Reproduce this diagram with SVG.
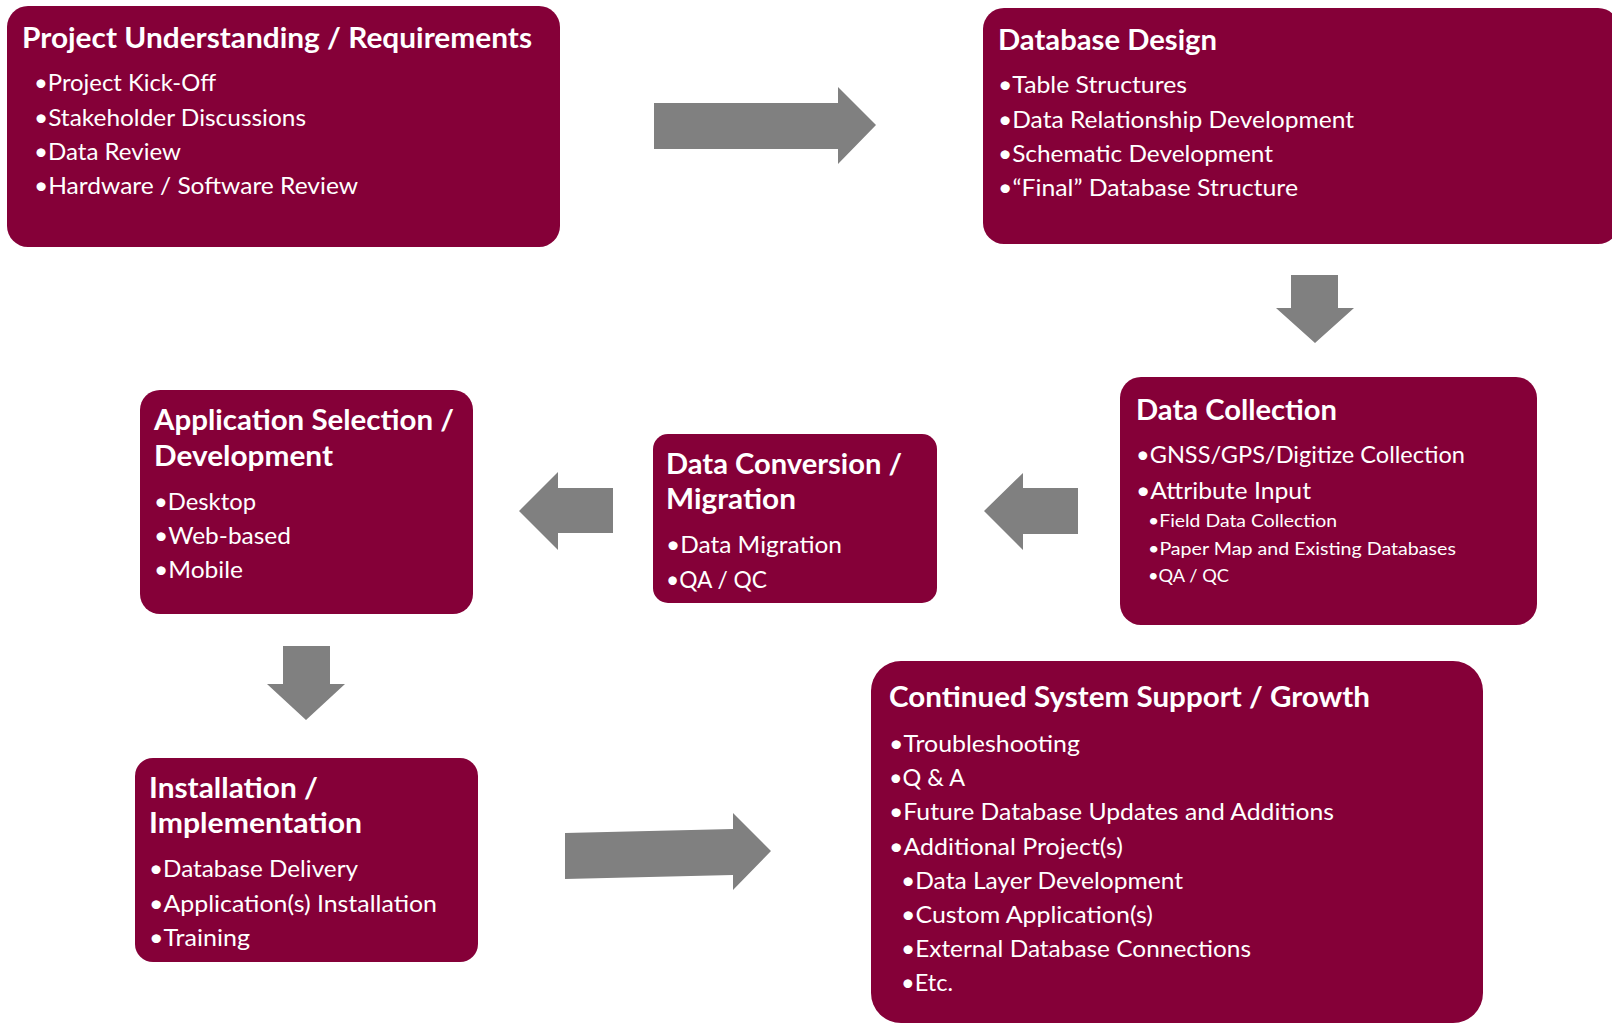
<svg xmlns="http://www.w3.org/2000/svg" width="1612" height="1023" viewBox="0 0 1612 1023">
<style>
.box{fill:#850038;}
.arrow{fill:#808080;}
text{font-family:Lato,"Open Sans","Liberation Sans",sans-serif;fill:#ffffff;}
.t{font-size:28px;font-weight:bold;}
.b{font-size:24px;}
.s{font-size:18px;}
</style>
<rect width="1612" height="1023" fill="#ffffff"/>
<g id="connectors">
<polygon class="arrow" points="654,103 838,103 838,87 876,125 838,164 838,149 654,149"/>
<polygon class="arrow" points="1291,275 1338,275 1338,308 1354,308 1315,343 1276,308 1291,308"/>
<polygon class="arrow" points="1078,488 1023,488 1023,473 984,511 1023,550 1023,534 1078,534"/>
<polygon class="arrow" points="613,488 558,488 558,472 519,511 558,550 558,533 613,533"/>
<polygon class="arrow" points="283,646 330,646 330,684 345,684 306,720 267,684 283,684"/>
<polygon class="arrow" points="565,833 733,829 733,813 771,851 733,890 733,875 565,879"/>
</g>
<g id="n1">
<rect class="box" x="7" y="6" width="553" height="241" rx="21"/>
<text class="t" x="22" y="48" textLength="510" lengthAdjust="spacingAndGlyphs">Project Understanding / Requirements</text>
<text class="b" x="34" y="91" textLength="182" lengthAdjust="spacingAndGlyphs">•Project Kick-Off</text>
<text class="b" x="34" y="126" textLength="272" lengthAdjust="spacingAndGlyphs">•Stakeholder Discussions</text>
<text class="b" x="34" y="160" textLength="147" lengthAdjust="spacingAndGlyphs">•Data Review</text>
<text class="b" x="34" y="194" textLength="324" lengthAdjust="spacingAndGlyphs">•Hardware / Software Review</text>
</g>
<g id="n2">
<rect class="box" x="983" y="8" width="636" height="236" rx="21"/>
<text class="t" x="998" y="50" textLength="219" lengthAdjust="spacingAndGlyphs">Database Design</text>
<text class="b" x="998" y="93" textLength="189" lengthAdjust="spacingAndGlyphs">•Table Structures</text>
<text class="b" x="998" y="128" textLength="356" lengthAdjust="spacingAndGlyphs">•Data Relationship Development</text>
<text class="b" x="998" y="162" textLength="275" lengthAdjust="spacingAndGlyphs">•Schematic Development</text>
<text class="b" x="998" y="196" textLength="300" lengthAdjust="spacingAndGlyphs">•“Final” Database Structure</text>
</g>
<g id="n3">
<rect class="box" x="1120" y="377" width="417" height="248" rx="21"/>
<text class="t" x="1136" y="420" textLength="201" lengthAdjust="spacingAndGlyphs">Data Collection</text>
<text class="b" x="1136" y="463" textLength="329" lengthAdjust="spacingAndGlyphs">•GNSS/GPS/Digitize Collection</text>
<text class="b" x="1136" y="499" textLength="175" lengthAdjust="spacingAndGlyphs">•Attribute Input</text>
<text class="s" x="1148" y="527" textLength="189" lengthAdjust="spacingAndGlyphs">•Field Data Collection</text>
<text class="s" x="1148" y="555" textLength="308" lengthAdjust="spacingAndGlyphs">•Paper Map and Existing Databases</text>
<text class="s" x="1148" y="582" textLength="81" lengthAdjust="spacingAndGlyphs">•QA / QC</text>
</g>
<g id="n4">
<rect class="box" x="653" y="434" width="284" height="169" rx="15"/>
<text class="t" x="666" y="474" textLength="236" lengthAdjust="spacingAndGlyphs">Data Conversion /</text>
<text class="t" x="666" y="509" textLength="130" lengthAdjust="spacingAndGlyphs">Migration</text>
<text class="b" x="666" y="553" textLength="176" lengthAdjust="spacingAndGlyphs">•Data Migration</text>
<text class="b" x="666" y="588" textLength="101" lengthAdjust="spacingAndGlyphs">•QA / QC</text>
</g>
<g id="n5">
<rect class="box" x="140" y="390" width="333" height="224" rx="20"/>
<text class="t" x="154" y="430" textLength="300" lengthAdjust="spacingAndGlyphs">Application Selection /</text>
<text class="t" x="154" y="466" textLength="179" lengthAdjust="spacingAndGlyphs">Development</text>
<text class="b" x="154" y="510" textLength="102" lengthAdjust="spacingAndGlyphs">•Desktop</text>
<text class="b" x="154" y="544" textLength="137" lengthAdjust="spacingAndGlyphs">•Web-based</text>
<text class="b" x="154" y="578" textLength="89" lengthAdjust="spacingAndGlyphs">•Mobile</text>
</g>
<g id="n6">
<rect class="box" x="135" y="758" width="343" height="204" rx="18"/>
<text class="t" x="149" y="798" textLength="169" lengthAdjust="spacingAndGlyphs">Installation /</text>
<text class="t" x="149" y="833" textLength="213" lengthAdjust="spacingAndGlyphs">Implementation</text>
<text class="b" x="149" y="877" textLength="209" lengthAdjust="spacingAndGlyphs">•Database Delivery</text>
<text class="b" x="149" y="912" textLength="288" lengthAdjust="spacingAndGlyphs">•Application(s) Installation</text>
<text class="b" x="149" y="946" textLength="101" lengthAdjust="spacingAndGlyphs">•Training</text>
</g>
<g id="n7">
<rect class="box" x="871" y="661" width="612" height="362" rx="30"/>
<text class="t" x="889" y="707" textLength="481" lengthAdjust="spacingAndGlyphs">Continued System Support / Growth</text>
<text class="b" x="889" y="752" textLength="191" lengthAdjust="spacingAndGlyphs">•Troubleshooting</text>
<text class="b" x="889" y="786" textLength="76" lengthAdjust="spacingAndGlyphs">•Q &amp; A</text>
<text class="b" x="889" y="820" textLength="445" lengthAdjust="spacingAndGlyphs">•Future Database Updates and Additions</text>
<text class="b" x="889" y="855" textLength="234" lengthAdjust="spacingAndGlyphs">•Additional Project(s)</text>
<text class="b" x="901" y="889" textLength="282" lengthAdjust="spacingAndGlyphs">•Data Layer Development</text>
<text class="b" x="901" y="923" textLength="252" lengthAdjust="spacingAndGlyphs">•Custom Application(s)</text>
<text class="b" x="901" y="957" textLength="350" lengthAdjust="spacingAndGlyphs">•External Database Connections</text>
<text class="b" x="901" y="991" textLength="52" lengthAdjust="spacingAndGlyphs">•Etc.</text>
</g>
</svg>
